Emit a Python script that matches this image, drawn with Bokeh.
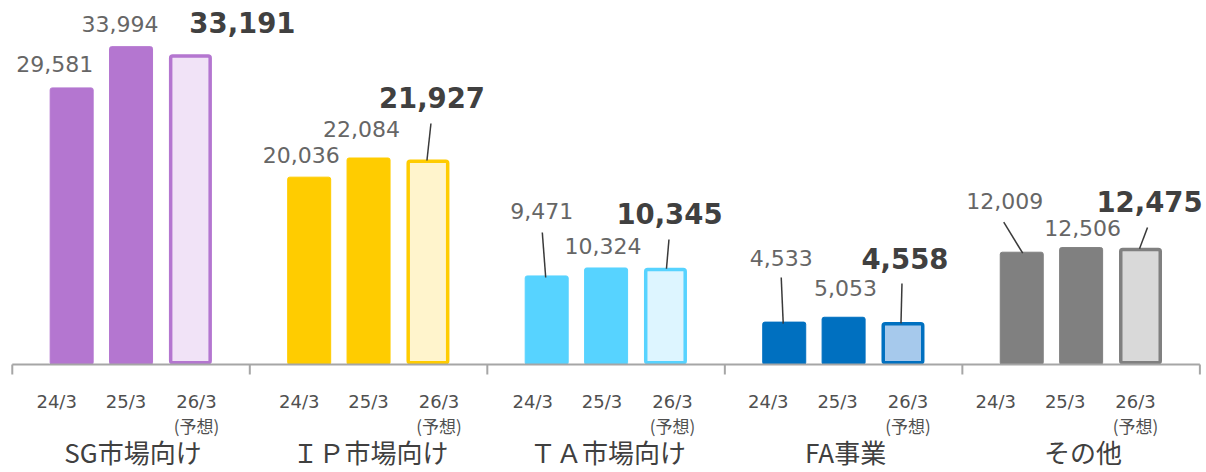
from bokeh.plotting import figure
from bokeh.models import Range1d, ColumnDataSource
from bokeh.core.properties import value
from bokeh.embed import file_html
from bokeh.resources import INLINE

# ---------------- data ----------------
groups = ["SG市場向け", "ＩＰ市場向け", "ＴＡ市場向け", "FA事業", "その他"]
periods = ["24/3", "25/3", "26/3"]
forecast_note = "(予想)"
sg_values = [29581, 33994, 33191]
ip_values = [20036, 22084, 21927]
ta_values = [9471, 10324, 10345]
fa_values = [4533, 5053, 4558]
other_values = [12009, 12506, 12475]
series = [sg_values, ip_values, ta_values, fa_values, other_values]

main_colors = ["#B476D0", "#FFCC00", "#57D3FF", "#0070C0", "#808080"]
light_colors = ["#F1E3F7", "#FFF4CC", "#DDF5FF", "#A6C9EC", "#D9D9D9"]

# ---------------- layout (pixels) ----------------
W, H = 1206, 472
PXU = 59.38                        # px per x unit (one bar slot)
X0 = -1.03 - 10 / PXU
X1 = X0 + W / PXU
S = 0.00935                        # px per value unit
BASE = 364                         # baseline, px from top
Y1 = BASE / S
Y0 = -(H - BASE) / S

def dx(px):
    return px / PXU

def dy(px):
    # px positive = downwards on screen
    return -px / S

BAR_W_PX = 43
FC_LW = 3.5

# label offsets from (bar centre, bar top), px
label_off = [
    [(-17, -24), (-11, -23), (52, -32)],
    [(-8, -22), (-7, -29.5), (4, -62)],
    [(-5, -65), (-3, -21.5), (4, -54)],
    [(-3, -64.6), (2, -29), (2, -63.4)],
    [(-17, -51), (1.5, -20), (9, -46)],
]
leaders = {
    (1, 2): ((3, -36), (-1, 1)),
    (2, 0): ((-4.4, -43.4), (-1, 1.5)),
    (2, 2): ((3.5, -28.3), (1, 1)),
    (3, 0): ((-3, -44.6), (-1, 1.5)),
    (3, 2): ((-1, -38.4), (-2, 1.5)),
    (4, 0): ((-18, -30), (1, 1)),
    (4, 2): ((7, -20.4), (-1, 1)),
}
tick_group_shift = [-5, 0, -4, -6, -16]
tick_within = [-10, 0, 11]

p = figure(width=W, height=H, x_range=Range1d(X0, X1), y_range=Range1d(Y0, Y1),
           x_axis_location=None, y_axis_location=None, toolbar_location=None,
           output_backend="svg", min_border_left=0, min_border_right=0,
           min_border_top=0, min_border_bottom=0)
p.outline_line_color = None
p.grid.visible = False
p.background_fill_color = "white"
p.border_fill_color = "white"

# ---------------- bars ----------------
act = dict(x=[], top=[], color=[])
fc = dict(x=[], top=[], bottom=[], fill=[], line=[])
for g, vals in enumerate(series):
    for j, v in enumerate(vals):
        x = 4 * g + j
        if j < 2:
            act["x"].append(x); act["top"].append(v); act["color"].append(main_colors[g])
        else:
            fc["x"].append(x); fc["top"].append(v + dy(FC_LW / 2))
            fc["bottom"].append(dy(-FC_LW / 2))
            fc["fill"].append(light_colors[g]); fc["line"].append(main_colors[g])

p.vbar(x="x", top="top", bottom=0, width=dx(BAR_W_PX), color="color",
       source=ColumnDataSource(act), border_radius=2)
p.vbar(x="x", top="top", bottom="bottom", width=dx(BAR_W_PX - FC_LW), fill_color="fill",
       line_color="line", line_width=FC_LW, source=ColumnDataSource(fc), border_radius=2)

# ---------------- axis line and group ticks ----------------
p.segment(x0=[-1], y0=[0], x1=[19], y1=[0], line_color="#A6A6A6", line_width=2)
tick_x = [4 * g - 1 for g in range(len(groups) + 1)]
p.segment(x0=tick_x, y0=[0] * len(tick_x), x1=tick_x, y1=[dy(10)] * len(tick_x),
          line_color="#A6A6A6", line_width=2)

# ---------------- leader lines ----------------
lx0, ly0, lx1, ly1 = [], [], [], []
for (g, j), ((tx, ty), (bx, by)) in leaders.items():
    x = 4 * g + j
    v = series[g][j]
    lx0.append(x + dx(tx)); ly0.append(v + dy(ty))
    lx1.append(x + dx(bx)); ly1.append(v + dy(by))
p.segment(x0=lx0, y0=ly0, x1=lx1, y1=ly1, line_color="#3A3A3A", line_width=1.5)

# ---------------- value labels ----------------
reg = dict(x=[], y=[], t=[])
bold = dict(x=[], y=[], t=[])
for g, vals in enumerate(series):
    for j, v in enumerate(vals):
        ox, oy = label_off[g][j]
        d = reg if j < 2 else bold
        d["x"].append(4 * g + j + dx(ox))
        d["y"].append(v + dy(oy))
        d["t"].append(f"{v:,}")
p.text(x="x", y="y", text="t", source=ColumnDataSource(reg), text_align="center",
       text_baseline="middle", text_font=value("DejaVu Sans"), text_font_size="22px",
       text_color="#666666")
p.text(x="x", y="y", text="t", source=ColumnDataSource(bold), text_align="center",
       text_baseline="middle", text_font=value("DejaVu Sans"), text_font_style="bold",
       text_font_size="27.5px", text_color="#404040")

# ---------------- category labels ----------------
tk = dict(x=[], t=[])
note = dict(x=[], t=[])
for g in range(len(groups)):
    for j, per in enumerate(periods):
        x = 4 * g + j + dx(tick_group_shift[g] + tick_within[j])
        tk["x"].append(x); tk["t"].append(per)
        if j == 2:
            note["x"].append(x); note["t"].append(forecast_note)
p.text(x="x", y=dy(401 - BASE), text="t", source=ColumnDataSource(tk), text_align="center",
       text_baseline="middle", text_font=value("DejaVu Sans"), text_font_size="18px",
       text_color="#505050")
p.text(x="x", y=dy(425 - BASE), text="t", source=ColumnDataSource(note), text_align="center",
       text_baseline="middle", text_font=value("Noto Sans CJK JP"), text_font_size="17px",
       text_color="#505050")

gl = dict(x=[4 * g + 1 + dx(2) for g in range(len(groups))], t=groups)
p.text(x="x", y=dy(451 - BASE), text="t", source=ColumnDataSource(gl), text_align="center",
       text_baseline="middle", text_font=value("Noto Sans CJK JP"), text_font_size="26px",
       text_color="#404040")

open("out.html", "w").write(file_html(p, INLINE))
